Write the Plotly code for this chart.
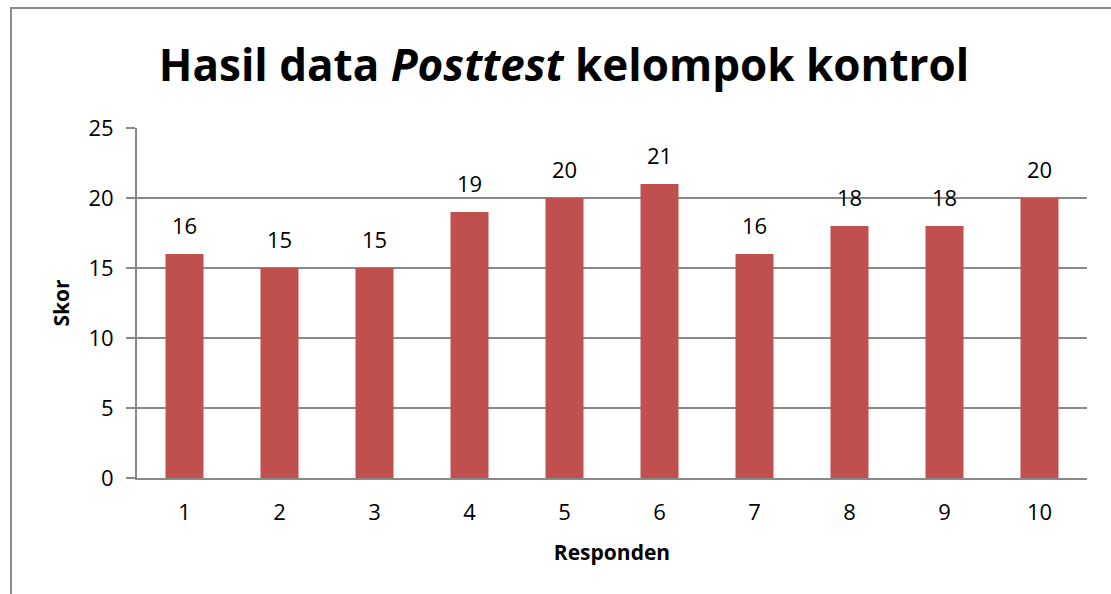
import plotly.graph_objects as go

categories = ["1", "2", "3", "4", "5", "6", "7", "8", "9", "10"]
scores = [16, 15, 15, 19, 20, 21, 16, 18, 18, 20]
y_ticks = [0, 5, 10, 15, 20, 25]

FONT = "Open Sans"
GRID = "#898989"
BAR = "#C0504D"

L, R, T, B = 137, 24, 128, 116
W, H = 1111, 594
pw, ph = W - L - R, H - T - B

def px_to_paper_x(px):
    return (px - L) / pw

def px_to_paper_y(py):
    return (H - B - py) / ph

fig = go.Figure()
fig.add_trace(go.Bar(
    x=categories, y=scores, marker=dict(color=BAR, line=dict(width=0)),
    hoverinfo="x+y",
))

for i, v in enumerate(scores):
    fig.add_annotation(x=i, y=v, text=str(v), showarrow=False, yanchor="bottom",
                       yshift=12, font=dict(family=FONT, size=22, color="black"))

fig.add_shape(type="rect", xref="paper", yref="paper",
              x0=px_to_paper_x(11), x1=px_to_paper_x(1125),
              y0=px_to_paper_y(610), y1=px_to_paper_y(8),
              line=dict(color="#8c8c8c", width=2), fillcolor="rgba(0,0,0,0)", layer="below")

fig.update_layout(
    width=W, height=H,
    margin=dict(l=L, r=R, t=T, b=B, pad=0, autoexpand=False),
    paper_bgcolor="white", plot_bgcolor="white",
    bargap=0.6,
    showlegend=False,
    title=dict(text="<b>Hasil data <i>Posttest</i> kelompok kontrol</b>",
               x=564 / W, xanchor="center", y=1 - 66 / H, yanchor="middle",
               font=dict(family=FONT, size=44, color="black")),
    font=dict(family=FONT, color="black"),
)
fig.update_xaxes(
    type="category", showgrid=False, showline=True, linecolor=GRID, linewidth=2,
    ticks="", tickfont=dict(family=FONT, size=22, color="black"), ticklabelstandoff=14,
    automargin=False,
    title=dict(text="<b>Responden</b>", font=dict(family=FONT, size=21, color="black"), standoff=20),
)
fig.update_yaxes(
    range=[0, 25], tickvals=y_ticks, showgrid=True, gridcolor=GRID, gridwidth=2,
    showline=True, linecolor=GRID, linewidth=2, ticks="outside", ticklen=9, tickcolor=GRID,
    tickwidth=2, tickfont=dict(family=FONT, size=22, color="black"), ticklabelstandoff=8,
    zeroline=False, automargin=False,
    title=dict(text="<b>Skor</b>", font=dict(family=FONT, size=21, color="black"), standoff=13),
)

fig.write_html("out.html", config={"displayModeBar": False},
               post_script="document.body.style.margin='0';document.body.style.padding='0';")
